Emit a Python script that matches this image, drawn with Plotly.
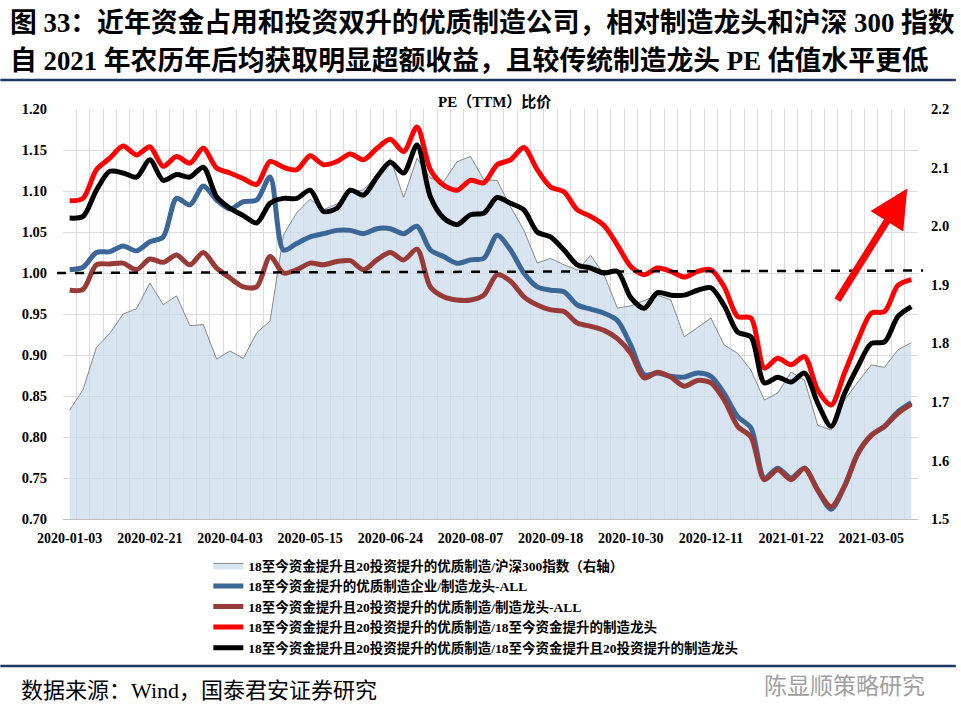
import plotly.graph_objects as go

# weekly dates (category axis, labels every 6th week)
DATES = [
    "2020-01-03", "2020-01-10", "2020-01-17", "2020-01-23", "2020-02-07", "2020-02-14",
    "2020-02-21", "2020-02-28", "2020-03-06", "2020-03-13", "2020-03-20", "2020-03-27",
    "2020-04-03", "2020-04-10", "2020-04-17", "2020-04-24", "2020-04-30", "2020-05-08",
    "2020-05-15", "2020-05-22", "2020-05-29", "2020-06-05", "2020-06-12", "2020-06-19",
    "2020-06-24", "2020-07-03", "2020-07-10", "2020-07-17", "2020-07-24", "2020-07-31",
    "2020-08-07", "2020-08-14", "2020-08-21", "2020-08-28", "2020-09-04", "2020-09-11",
    "2020-09-18", "2020-09-25", "2020-09-30", "2020-10-09", "2020-10-16", "2020-10-23",
    "2020-10-30", "2020-11-06", "2020-11-13", "2020-11-20", "2020-11-27", "2020-12-04",
    "2020-12-11", "2020-12-18", "2020-12-25", "2020-12-31", "2021-01-08", "2021-01-15",
    "2021-01-22", "2021-01-29", "2021-02-05", "2021-02-10", "2021-02-19", "2021-02-26",
    "2021-03-05", "2021-03-12", "2021-03-19", "2021-03-26",
]

# 优质制造/沪深300 (right axis)
HS300_RATIO = [
    1.686, 1.721, 1.793, 1.817, 1.850, 1.859, 1.903, 1.866, 1.881, 1.830, 1.832, 1.773,
    1.787, 1.774, 1.818, 1.838, 1.985, 2.023, 2.046, 2.028, 2.038, 2.057, 2.062, 2.087,
    2.116, 2.049, 2.116, 2.082, 2.076, 2.110, 2.119, 2.079, 2.078, 2.033, 1.993, 1.937,
    1.945, 1.934, 1.925, 1.950, 1.917, 1.860, 1.864, 1.873, 1.882, 1.874, 1.811, 1.827,
    1.843, 1.797, 1.783, 1.754, 1.703, 1.715, 1.751, 1.737, 1.660, 1.652, 1.703, 1.734,
    1.763, 1.759, 1.789, 1.801,
]

BLUE = [
    1.004, 1.007, 1.025, 1.026, 1.033, 1.027, 1.038, 1.044, 1.091, 1.083, 1.106, 1.089,
    1.078, 1.087, 1.089, 1.117, 1.028, 1.036, 1.044, 1.048, 1.052, 1.052, 1.048, 1.054,
    1.054, 1.048, 1.057, 1.028, 1.020, 1.012, 1.016, 1.018, 1.046, 1.028, 1.000, 0.983,
    0.979, 0.977, 0.961, 0.956, 0.951, 0.942, 0.912, 0.876, 0.878, 0.874, 0.873, 0.878,
    0.874, 0.853, 0.825, 0.811, 0.750, 0.762, 0.750, 0.762, 0.735, 0.712, 0.740, 0.780,
    0.802, 0.813, 0.831, 0.842,
]

BROWN = [
    0.979, 0.980, 1.010, 1.011, 1.012, 1.004, 1.017, 1.013, 1.022, 1.010, 1.025, 1.006,
    0.994, 0.983, 0.983, 1.020, 1.000, 1.004, 1.012, 1.010, 1.014, 1.015, 1.004, 1.016,
    1.025, 1.016, 1.029, 0.983, 0.971, 0.967, 0.967, 0.973, 0.998, 0.990, 0.971, 0.961,
    0.955, 0.953, 0.939, 0.935, 0.930, 0.920, 0.902, 0.872, 0.879, 0.873, 0.862, 0.869,
    0.866, 0.845, 0.813, 0.800, 0.748, 0.760, 0.748, 0.762, 0.735, 0.715, 0.740, 0.780,
    0.802, 0.813, 0.829, 0.840,
]

RED = [
    1.088, 1.091, 1.126, 1.140, 1.155, 1.144, 1.154, 1.130, 1.142, 1.134, 1.152, 1.128,
    1.122, 1.115, 1.108, 1.136, 1.129, 1.126, 1.143, 1.132, 1.136, 1.145, 1.138, 1.152,
    1.163, 1.148, 1.178, 1.126, 1.107, 1.101, 1.113, 1.110, 1.132, 1.138, 1.153, 1.126,
    1.105, 1.099, 1.077, 1.069, 1.058, 1.034, 1.008, 0.998, 1.006, 1.002, 0.995, 1.002,
    1.004, 0.983, 0.947, 0.945, 0.884, 0.896, 0.888, 0.898, 0.857, 0.839, 0.878, 0.918,
    0.951, 0.953, 0.985, 0.992,
]

BLACK = [
    1.067, 1.069, 1.101, 1.124, 1.122, 1.117, 1.138, 1.113, 1.120, 1.117, 1.129, 1.093,
    1.079, 1.070, 1.061, 1.085, 1.091, 1.091, 1.101, 1.075, 1.079, 1.101, 1.095, 1.117,
    1.135, 1.122, 1.156, 1.093, 1.067, 1.059, 1.071, 1.073, 1.092, 1.085, 1.077, 1.050,
    1.044, 1.028, 1.010, 1.006, 1.000, 1.002, 0.970, 0.957, 0.976, 0.973, 0.973, 0.979,
    0.982, 0.960, 0.928, 0.922, 0.866, 0.873, 0.867, 0.878, 0.841, 0.813, 0.853, 0.886,
    0.914, 0.916, 0.947, 0.959,
]

NAMES = [
    "18至今资金提升且20投资提升的优质制造/沪深300指数（右轴）",
    "18至今资金提升的优质制造企业/制造龙头-ALL",
    "18至今资金提升且20投资提升的优质制造/制造龙头-ALL",
    "18至今资金提升且20投资提升的优质制造/18至今资金提升的制造龙头",
    "18至今资金提升且20投资提升的优质制造/18至今资金提升且20投资提升的制造龙头",
]

TITLE_1 = "图 33：近年资金占用和投资双升的优质制造公司，相对制造龙头和沪深 300 指数"
TITLE_2 = "自 2021 年农历年后均获取明显超额收益，且较传统制造龙头 PE 估值水平更低"
CHART_TITLE = "PE（TTM）比价"
SOURCE = "数据来源：Wind，国泰君安证券研究"
WATERMARK = "陈显顺策略研究"

FONT = "Liberation Serif, Noto Sans CJK SC, serif"
x = list(range(len(DATES)))

fig = go.Figure()

# area on the base axis (right side) so it sits below the lines
fig.add_trace(go.Scatter(
    x=x, y=HS300_RATIO, name=NAMES[0], yaxis="y",
    mode="lines", fill="tozeroy", fillcolor="rgba(203,217,236,0.72)",
    line=dict(color="#6f6f6f", width=0.8),
))

line_specs = [
    (BLUE, NAMES[1], "#3B6797"),
    (BROWN, NAMES[2], "#983B38"),
    (RED, NAMES[3], "#FF0000"),
    (BLACK, NAMES[4], "#000000"),
]
for vals, name, color in line_specs:
    fig.add_trace(go.Scatter(
        x=x, y=vals, name=name, yaxis="y2", mode="lines",
        line=dict(color=color, width=5, shape="spline", smoothing=0.8),
    ))

tick_idx = list(range(0, len(DATES), 6))

fig.update_layout(
    width=961, height=723, autosize=False,
    margin=dict(l=63, r=38, t=109, b=204),
    paper_bgcolor="white", plot_bgcolor="white",
    font=dict(family=FONT, color="black"),
    showlegend=True,
    legend=dict(
        x=0.17, y=-0.076, xanchor="left", yanchor="top",
        font=dict(family=FONT, size=13.5, weight="bold"),
        itemwidth=30, tracegroupgap=0, bgcolor="rgba(0,0,0,0)",
    ),
    xaxis=dict(
        range=[-0.5, len(DATES) - 0.5],
        tickmode="array", tickvals=tick_idx, ticktext=[DATES[i] for i in tick_idx],
        tickfont=dict(family=FONT, size=14, weight="bold"),
        showgrid=False, zeroline=False, ticks="",
        showline=True, linecolor="#bfbfbf", linewidth=1,
        minor=dict(tick0=-0.5, dtick=1, showgrid=True, gridcolor="#dcdcdc", gridwidth=1),
        ticklabelstandoff=6,
    ),
    yaxis=dict(
        side="right", range=[1.5, 2.2], dtick=0.1, tickformat=".1f",
        showgrid=False, zeroline=False, ticks="",
        tickfont=dict(family=FONT, size=14.5, weight="bold"),
        ticklabelstandoff=12,
    ),
    yaxis2=dict(
        overlaying="y", side="left", range=[0.7, 1.2], dtick=0.05, tickformat=".2f",
        showgrid=True, gridcolor="#dcdcdc", gridwidth=1, zeroline=False, ticks="",
        tickfont=dict(family=FONT, size=14.5, weight="bold"),
        ticklabelstandoff=15,
    ),
)

# dashed reference line at 1.00
fig.add_shape(type="line", xref="paper", yref="y2", x0=-0.007, x1=1.006, y0=1.0, y1=1.003,
              line=dict(color="black", width=2.5, dash="dash"), layer="above")

# header / footer rules
fig.add_shape(type="line", xref="paper", yref="paper", x0=-0.0733, x1=1.0442, y0=1.0707, y1=1.0707,
              line=dict(color="#1F3864", width=2.5))
fig.add_shape(type="line", xref="paper", yref="paper", x0=-0.0733, x1=1.0442, y0=-0.3585, y1=-0.3585,
              line=dict(color="#1F3864", width=2.5))

# red arrow
fig.add_annotation(x=62.7, y=1.103, xref="x", yref="y2", ax=57.4, ay=0.965, axref="x", ayref="y2",
                   text="", showarrow=True, arrowhead=2, arrowsize=1.1, arrowwidth=7,
                   arrowcolor="#FF0000")

fig.add_annotation(text=TITLE_1, xref="paper", yref="paper", x=-0.064, y=1.21,
                   xanchor="left", yanchor="middle", showarrow=False,
                   font=dict(family=FONT, size=26.8, weight="bold"))
fig.add_annotation(text=TITLE_2, xref="paper", yref="paper", x=-0.064, y=1.117,
                   xanchor="left", yanchor="middle", showarrow=False,
                   font=dict(family=FONT, size=26.8, weight="bold"))
fig.add_annotation(text=CHART_TITLE, xref="paper", yref="paper", x=0.505, y=1.017,
                   xanchor="center", yanchor="middle", showarrow=False,
                   font=dict(family=FONT, size=15, weight="bold"))
fig.add_annotation(text=SOURCE, xref="paper", yref="paper", x=-0.052, y=-0.418,
                   xanchor="left", yanchor="middle", showarrow=False,
                   font=dict(family=FONT, size=22))
fig.add_annotation(text=WATERMARK, xref="paper", yref="paper", x=0.817, y=-0.402,
                   xanchor="left", yanchor="middle", showarrow=False,
                   font=dict(family="Noto Sans CJK SC", size=23, color="#a0a0a0"))

fig.write_html("out.html", config={"displayModeBar": False})

# drop the default page margin so the figure sits at the window origin
with open("out.html", encoding="utf-8") as f:
    html = f.read()
html = html.replace("<body>", '<body style="margin:0">', 1)
with open("out.html", "w", encoding="utf-8") as f:
    f.write(html)
